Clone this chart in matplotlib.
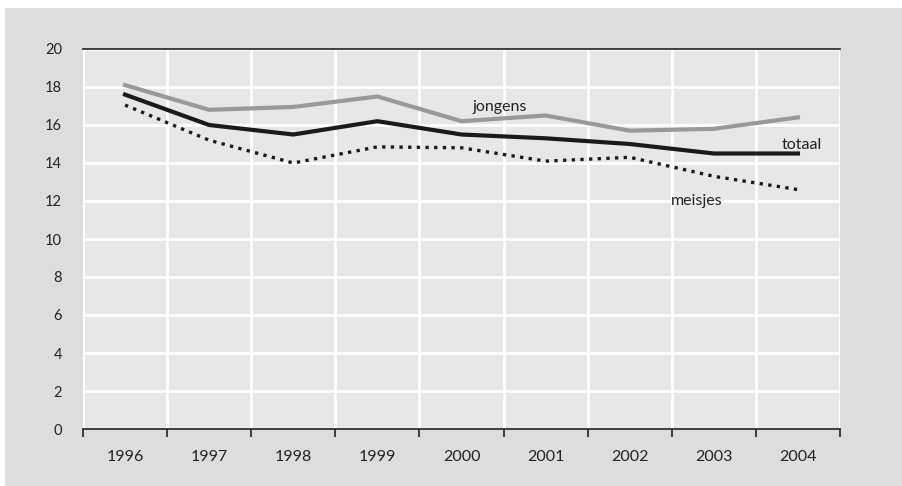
import numpy as np
import matplotlib
matplotlib.use("Agg")
import matplotlib.pyplot as plt
from matplotlib.patches import Rectangle

plt.rcParams['font.family'] = ['Lato', 'DejaVu Sans']

# data
jaren = ['1996', '1997', '1998', '1999', '2000', '2001', '2002', '2003', '2004']
jongens = [18.1, 16.8, 16.95, 17.5, 16.2, 16.5, 15.7, 15.8, 16.4]
totaal = [17.6, 16.0, 15.5, 16.2, 15.5, 15.3, 15.0, 14.5, 14.5]
meisjes = [17.05, 15.2, 14.0, 14.85, 14.8, 14.1, 14.3, 13.3, 12.6]
yticks = list(range(0, 21, 2))

outer = '#dcdddf'
inner = '#e6e7e9'

fig = plt.figure(figsize=(9.03, 4.86), dpi=100)
fig.patch.set_facecolor('white')
fig.patches.append(Rectangle((5/903, 0), 1 - 5/903, 1 - 8/486, transform=fig.transFigure,
                             facecolor=outer, edgecolor='none', zorder=-10))

ax = fig.add_axes([83/903, 57/486, 757/903, 380/486])
ax.set_zorder(5)
ax.set_facecolor(inner)

x = np.arange(len(jaren)) + 0.5
ax.plot(x, jongens, color='#999999', lw=3.0, solid_joinstyle='miter', zorder=3)
ax.plot(x, totaal, color='#1a1a1a', lw=3.0, solid_joinstyle='miter', zorder=4)
ax.plot(x, meisjes, color='#1a1a1a', lw=2.4, linestyle=(0, (1.0, 1.6)), zorder=4)

ax.set_xlim(0, len(jaren))
ax.set_ylim(0, 20)

# category boundaries carry the tick marks and grid, labels sit in between
ax.set_xticks(np.arange(len(jaren) + 1))
ax.set_xticklabels([])
ax.set_xticks(x, minor=True)
ax.set_xticklabels(jaren, minor=True, fontsize=11.5, color='#222222')
ax.tick_params(axis='x', which='major', length=6, width=1.2, color='#222222', direction='out')
ax.tick_params(axis='x', which='minor', length=0, pad=15)

ax.set_yticks(yticks)
ax.set_yticklabels([str(v) for v in yticks], fontsize=10.5, color='#222222')
ax.tick_params(axis='y', length=0, pad=15)

ax.grid(True, which='major', color='white', lw=2.0, zorder=1)
ax.set_axisbelow(True)

for s in ['left', 'right']:
    ax.spines[s].set_visible(False)
ax.spines['top'].set_color('#222222')
ax.spines['top'].set_linewidth(1.2)
ax.spines['bottom'].set_color('#222222')
ax.spines['bottom'].set_linewidth(1.2)

ax.text(4.95, 16.95, 'jongens', fontsize=11.5, color='#222222', ha='center', va='center')
ax.text(8.55, 14.95, 'totaal', fontsize=11.5, color='#222222', ha='center', va='center')
ax.text(7.3, 12.0, 'meisjes', fontsize=11.5, color='#222222', ha='center', va='center')

fig.savefig('out.png', dpi=100, facecolor=fig.get_facecolor())
